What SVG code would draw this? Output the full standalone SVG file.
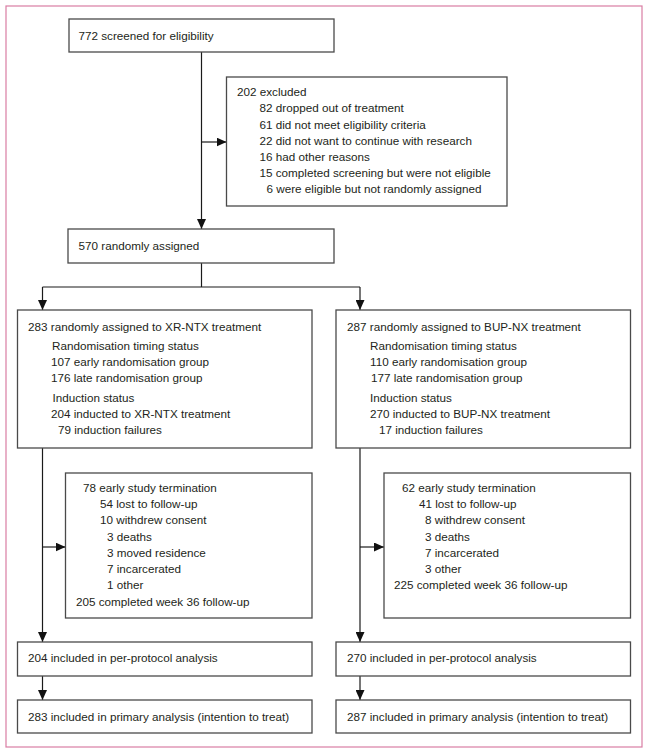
<svg xmlns="http://www.w3.org/2000/svg" width="648" height="754" viewBox="0 0 648 754">
<style>
.frame{fill:none;stroke:#d97da3;stroke-width:1.2}
.box{fill:#fff;stroke:#4a4a4a;stroke-width:1.3}
.ln{fill:none;stroke:#1a1a1a;stroke-width:1.2}
text{font-family:"Liberation Sans",Arial,sans-serif;font-size:11.7px;fill:#231f20}
</style>
<defs>
<marker id="ah" markerUnits="userSpaceOnUse" markerWidth="10" markerHeight="9" refX="10" refY="4.5" orient="auto">
<path d="M0,0 L10,4.5 L0,9 Z" fill="#111"/>
</marker>
</defs>
<rect width="648" height="754" fill="#fff"/>
<rect class="frame" x="6" y="6" width="636" height="741"/>
<g id="connectors">
<line class="ln" x1="201.5" y1="52" x2="201.5" y2="229" marker-end="url(#ah)"/>
<line class="ln" x1="201.5" y1="142" x2="226.5" y2="142" marker-end="url(#ah)"/>
<polyline class="ln" points="201.5,263 201.5,287"/>
<line class="ln" x1="42.5" y1="287" x2="360" y2="287"/>
<line class="ln" x1="42.5" y1="287" x2="42.5" y2="310" marker-end="url(#ah)"/>
<line class="ln" x1="360" y1="287" x2="360" y2="310" marker-end="url(#ah)"/>
<line class="ln" x1="42.5" y1="448" x2="42.5" y2="642" marker-end="url(#ah)"/>
<line class="ln" x1="42.5" y1="547" x2="65.5" y2="547" marker-end="url(#ah)"/>
<line class="ln" x1="42.5" y1="676" x2="42.5" y2="700" marker-end="url(#ah)"/>
<line class="ln" x1="360" y1="448" x2="360" y2="642" marker-end="url(#ah)"/>
<line class="ln" x1="360" y1="547" x2="384" y2="547" marker-end="url(#ah)"/>
<line class="ln" x1="360" y1="676" x2="360" y2="700" marker-end="url(#ah)"/>
</g>
<g id="screened">
<rect class="box" x="69" y="19" width="265" height="33"/>
<text x="78.5" y="40">772 screened for eligibility</text>
</g>
<g id="excluded">
<rect class="box" x="226.5" y="77" width="280.5" height="129"/>
<text x="237" y="96">202 excluded</text>
<text x="259.5" y="112">82 dropped out of treatment</text>
<text x="259.5" y="128.5">61 did not meet eligibility criteria</text>
<text x="259.5" y="144.5">22 did not want to continue with research</text>
<text x="259.5" y="160.5">16 had other reasons</text>
<text x="259.5" y="177">15 completed screening but were not eligible</text>
<text x="266.5" y="193">6 were eligible but not randomly assigned</text>
</g>
<g id="randomised">
<rect class="box" x="68" y="229" width="266" height="34"/>
<text x="78.5" y="249.5">570 randomly assigned</text>
</g>
<g id="xrntx">
<rect class="box" x="17.5" y="310" width="294.5" height="138"/>
<text x="28" y="331">283 randomly assigned to XR-NTX treatment</text>
<text x="52" y="350">Randomisation timing status</text>
<text x="51" y="366">107 early randomisation group</text>
<text x="51" y="382">176 late randomisation group</text>
<text x="52.5" y="402">Induction status</text>
<text x="51" y="418">204 inducted to XR-NTX treatment</text>
<text x="58" y="434">79 induction failures</text>
</g>
<g id="bupnx">
<rect class="box" x="336" y="310" width="294.5" height="138"/>
<text x="347" y="331">287 randomly assigned to BUP-NX treatment</text>
<text x="370" y="350">Randomisation timing status</text>
<text x="370" y="366">110 early randomisation group</text>
<text x="371" y="382">177 late randomisation group</text>
<text x="370" y="402">Induction status</text>
<text x="370" y="418">270 inducted to BUP-NX treatment</text>
<text x="379" y="434">17 induction failures</text>
</g>
<g id="xrntx-term">
<rect class="box" x="65.5" y="473" width="246.5" height="145"/>
<text x="83" y="492">78 early study termination</text>
<text x="100" y="508">54 lost to follow-up</text>
<text x="100" y="524">10 withdrew consent</text>
<text x="107" y="541">3 deaths</text>
<text x="107" y="557">3 moved residence</text>
<text x="107" y="573">7 incarcerated</text>
<text x="107" y="589">1 other</text>
<text x="76" y="606">205 completed week 36 follow-up</text>
</g>
<g id="bupnx-term">
<rect class="box" x="384" y="473" width="246.5" height="145"/>
<text x="402" y="492">62 early study termination</text>
<text x="419" y="508">41 lost to follow-up</text>
<text x="425" y="524">8 withdrew consent</text>
<text x="425" y="541">3 deaths</text>
<text x="425" y="557">7 incarcerated</text>
<text x="425" y="573">3 other</text>
<text x="394" y="589">225 completed week 36 follow-up</text>
</g>
<g id="xrntx-pp">
<rect class="box" x="17.5" y="642" width="294.5" height="34"/>
<text x="28" y="662">204 included in per-protocol analysis</text>
</g>
<g id="bupnx-pp">
<rect class="box" x="336" y="642" width="294.5" height="34"/>
<text x="347" y="662">270 included in per-protocol analysis</text>
</g>
<g id="xrntx-itt">
<rect class="box" x="17.5" y="700" width="294.5" height="33"/>
<text x="28" y="720.5">283 included in primary analysis (intention to treat)</text>
</g>
<g id="bupnx-itt">
<rect class="box" x="336" y="700" width="294.5" height="33"/>
<text x="347" y="720.5">287 included in primary analysis (intention to treat)</text>
</g>
</svg>
